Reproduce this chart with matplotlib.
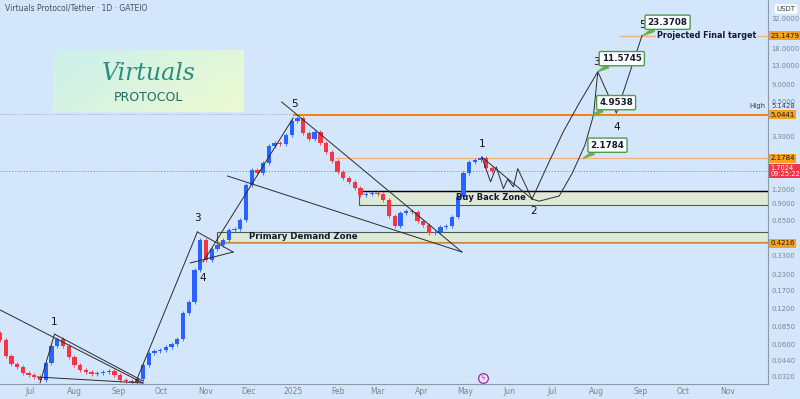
import numpy as np
import pandas as pd
import matplotlib
matplotlib.use('Agg')
import matplotlib.pyplot as plt
import matplotlib.dates as mdates
from matplotlib.patches import Rectangle

# ---- data ----
# one candle every 4 days starting 2024-06-10 (close prices, USDT)
start_date = '2024-06-10'
first_open = 0.075
closes = [0.065, 0.048, 0.041, 0.039, 0.0345, 0.033, 0.032, 0.030, 0.042, 0.058,
          0.066, 0.058, 0.047, 0.040, 0.0366, 0.035, 0.0338, 0.0345, 0.035, 0.0358,
          0.033, 0.030, 0.0295, 0.029, 0.0307, 0.040, 0.0507, 0.0527, 0.0537, 0.057,
          0.060, 0.066, 0.110, 0.136, 0.252, 0.45, 0.305, 0.378, 0.408, 0.449,
          0.545, 0.555, 0.66, 1.30, 1.73, 1.64, 1.99, 2.75, 2.92, 2.85,
          3.40, 4.45, 4.70, 3.54, 3.15, 3.61, 2.92, 2.45, 2.06, 1.67,
          1.49, 1.37, 1.22, 1.07, 1.09, 1.11, 1.09, 0.97, 0.713, 0.589,
          0.757, 0.785, 0.77, 0.649, 0.600, 0.514, 0.524, 0.577, 0.589, 0.700,
          1.03, 1.64, 2.02, 2.10, 2.19, 1.80, 1.7024]

# zones (bottom, top) and their start dates
demand_zone = (0.434, 0.524)
demand_start = '2024-11-09'
buyback_zone = (0.883, 1.156)
buyback_start = '2025-02-16'

# horizontal levels: (price, start date)
level_high = (5.0441, '2025-01-01')
level_target1 = (2.1784, '2025-01-30')
level_final = (23.1479, '2025-08-17')
level_demand = (0.4216, '2024-11-09')
last_price = 1.7024
ath_price = 5.1428

# trend lines: ((date, price), (date, price))
trend_lines = [
    (('2024-06-10', 0.1164), ('2024-09-18', 0.0284)),
    (('2024-07-18', 0.0731), ('2024-09-18', 0.0295)),
    (('2024-07-06', 0.0319), ('2024-09-18', 0.0284)),
    (('2024-07-08', 0.0285), ('2024-07-18', 0.0720)),
    (('2024-09-13', 0.0290), ('2024-10-26', 0.524)),
    (('2024-10-26', 0.524), ('2024-11-20', 0.356)),
    (('2024-10-21', 0.288), ('2024-11-20', 0.356)),
    (('2024-10-30', 0.294), ('2025-01-01', 4.73)),
    (('2024-12-24', 6.44), ('2025-04-29', 0.356)),
    (('2024-11-16', 1.545), ('2025-04-29', 0.356)),
    (('2025-05-13', 2.22), ('2025-06-17', 0.99)),
]

# projected wave path
zigzag_dates = ['2025-05-13', '2025-05-19', '2025-05-23', '2025-05-28', '2025-05-31',
                '2025-06-04', '2025-06-07', '2025-06-17']
zigzag_prices = [2.22, 1.38, 1.84, 1.21, 1.45, 1.25, 1.78, 0.99]
curve_a_dates = ['2025-06-17', '2025-06-22', '2025-07-06', '2025-07-15', '2025-07-24',
                 '2025-07-30', '2025-08-02']
curve_a_prices = [0.99, 0.95, 1.05, 1.62, 2.8, 5.0, 11.57]
curve_b_dates = ['2025-06-17', '2025-06-28', '2025-07-09', '2025-07-20', '2025-08-02']
curve_b_prices = [0.99, 1.92, 3.65, 6.3, 11.57]
impulse_dates = ['2025-08-02', '2025-08-15', '2025-09-02']
impulse_prices = [11.57, 5.2, 23.37]

# wave labels: (date, price, text)
wave_labels = [
    ('2024-07-18', 0.092, '1'),
    ('2024-10-26', 0.68, '3'),
    ('2024-10-30', 0.215, '4'),
    ('2025-01-02', 6.2, '5'),
    ('2025-05-13', 2.85, '1'),
    ('2025-06-18', 0.79, '2'),
    ('2025-08-01', 13.9, '3'),
    ('2025-08-15', 4.0, '4'),
    ('2025-09-02', 28.5, '5'),
]

# target callouts: (date, price, text)
callouts = [
    ('2025-09-03', 23.37, '23.3708'),
    ('2025-08-02', 11.57, '11.5745'),
    ('2025-07-29', 4.95, '4.9538'),
    ('2025-07-23', 2.178, '2.1784'),
]

axis_levels = [32, 18, 13, 9, 6.5, 3.3, 1.2, 0.9, 0.65,
               0.33, 0.23, 0.17, 0.12, 0.085, 0.06, 0.044, 0.032]

# ---- styling ----
bg = '#d4e6fb'
up_col = '#2962ff'
down_col = '#f23645'
orange = '#f57c00'
light_orange = '#efb37a'
zone_fill = '#dfead6'
navy = '#131a33'
green = '#4c9a4c'
gray_txt = '#7c838f'

fig = plt.figure(figsize=(8, 3.99), dpi=100, facecolor=bg)
ax = fig.add_axes([0, 15 / 399, 768 / 800, 384 / 399], facecolor=bg)
ax.set_yscale('log')

d = lambda s: mdates.date2num(pd.Timestamp(s))

# candles
dates = pd.date_range(start_date, periods=len(closes), freq='4D')
opens = [first_open] + closes[:-1]
x = mdates.date2num(dates)
for xi, o, c in zip(x, opens, closes):
    col = up_col if c >= o else down_col
    ax.bar(xi, abs(c - o), bottom=min(o, c), width=3.0, color=col, zorder=3)
    ax.vlines(xi, min(o, c) * 0.96, max(o, c) * 1.04, color=col, lw=0.6, zorder=3)

xmin, xmax = d('2024-06-10'), d('2025-11-29')
ax.set_xlim(xmin, xmax)
ax.set_ylim(0.02786, 46.13)

# zones
for (lo, hi), s in [(demand_zone, demand_start), (buyback_zone, buyback_start)]:
    ax.add_patch(Rectangle((d(s), lo), xmax - d(s), hi - lo, facecolor=zone_fill,
                           edgecolor='#4a5a55', lw=0.8, zorder=1))
ax.hlines(buyback_zone[1], d(buyback_start), xmax, color='black', lw=1.0, zorder=2)
ax.text(d('2025-05-19'), np.sqrt(buyback_zone[0] * buyback_zone[1]), 'Buy Back Zone',
        fontsize=6.0, fontweight='bold', color=navy, ha='center', va='center', zorder=4)
ax.text(d('2025-01-08'), np.sqrt(demand_zone[0] * demand_zone[1]), 'Primary Demand Zone',
        fontsize=6.2, fontweight='bold', color=navy, ha='center', va='center', zorder=4)

# horizontal levels
ax.hlines(level_high[0], d(level_high[1]), xmax, color=orange, lw=1.3, zorder=2)
ax.hlines(level_target1[0], d(level_target1[1]), xmax, color=light_orange, lw=0.9, zorder=2)
ax.hlines(level_final[0], d(level_final[1]), xmax, color=light_orange, lw=0.9, zorder=2)
ax.hlines(level_demand[0], d(level_demand[1]), xmax, color='#d99a3e', lw=1.2, zorder=2)
ax.hlines(last_price, xmin, xmax, color='#e06080', lw=0.6, ls=(0, (1.5, 2)), zorder=2)
ax.hlines(ath_price, xmin, xmax, color='#9aa3b0', lw=0.6, ls=(0, (1.5, 2)), zorder=1)
ax.text(d('2025-10-17'), level_final[0], 'Projected Final target', fontsize=5.8,
        fontweight='bold', color=navy, ha='center', va='center', zorder=4,
        bbox=dict(boxstyle='square,pad=0.15', fc=bg, ec='none'))

# trend lines and projection path
for (d1, p1), (d2, p2) in trend_lines:
    ax.plot([d(d1), d(d2)], [p1, p2], color='#2b2b2b', lw=0.7, zorder=4)
for ds, ps in [(zigzag_dates, zigzag_prices), (curve_a_dates, curve_a_prices),
               (curve_b_dates, curve_b_prices), (impulse_dates, impulse_prices)]:
    ax.plot([d(s) for s in ds], ps, color='#2b2b2b', lw=0.7, zorder=4)

for s, p, t in wave_labels:
    ax.text(d(s), p, t, fontsize=7.5, color='#111111', ha='center', va='center', zorder=5)

for s, p, t in callouts:
    ax.annotate(t, xy=(d(s), p), xytext=(24, 13), textcoords='offset pixels',
                fontsize=6.3, fontweight='bold', color=navy, ha='center', va='center',
                bbox=dict(boxstyle='round,pad=0.3,rounding_size=0.15', fc='white',
                          ec=green, lw=1.0),
                arrowprops=dict(arrowstyle='wedge,tail_width=0.4', color='#6bb04f',
                                shrinkA=0, shrinkB=0), zorder=6)

# title and event icon
ax.text(0.006, 0.978, 'Virtuals Protocol/Tether · 1D · GATEIO', transform=ax.transAxes,
        fontsize=5.5, color='#4a4f5a', ha='left', va='center')
ax.plot(483 / 768, 6 / 384, transform=ax.transAxes, marker='o', ms=7,
        mfc='#efe4f7', mec='#9c27b0', mew=0.9, clip_on=False, zorder=6)
ax.text(483 / 768, 6 / 384, 'ϟ', transform=ax.transAxes, fontsize=5, color='#9c27b0',
        ha='center', va='center', zorder=7)

# axes styling
for sp in ['top', 'left']:
    ax.spines[sp].set_visible(False)
for sp in ['right', 'bottom']:
    ax.spines[sp].set_color('#8f99a6')
    ax.spines[sp].set_linewidth(0.8)

ax.yaxis.tick_right()
ax.set_yticks(axis_levels)
ax.set_yticklabels(['%.4f' % v for v in axis_levels])
ax.yaxis.set_minor_locator(matplotlib.ticker.NullLocator())
ax.tick_params(axis='y', length=0, pad=2.5, labelsize=4.9, labelcolor=gray_txt)

ax.xaxis.set_major_locator(mdates.MonthLocator())
ax.xaxis.set_major_formatter(matplotlib.ticker.FuncFormatter(
    lambda v, pos: mdates.num2date(v).strftime('%Y' if mdates.num2date(v).month == 1 else '%b')))
ax.tick_params(axis='x', length=0, pad=2.5, labelsize=5.5, labelcolor=gray_txt)

# highlighted price tags on the right axis
tags = [(level_final[0], '23.1479'), (level_high[0], '5.0441'),
        (level_target1[0], '2.1784'), (level_demand[0], '0.4216')]
for p, t in tags:
    ax.text(1.003, p, t, transform=ax.get_yaxis_transform(), fontsize=5.0, color=navy,
            ha='left', va='center', clip_on=False, zorder=7,
            bbox=dict(boxstyle='square,pad=0.2', fc='#f7a21b', ec='none'))
ax.text(1.003, last_price, '1.7024\n09:25:22', transform=ax.get_yaxis_transform(),
        fontsize=4.8, color='white', ha='left', va='center', clip_on=False, zorder=7,
        linespacing=1.0, bbox=dict(boxstyle='square,pad=0.2', fc='#f23645', ec='none'))
ax.text(1.005, 5.91, '5.1428', transform=ax.get_yaxis_transform(), fontsize=4.9,
        color='#3a3f4a', ha='left', va='center', clip_on=False, zorder=7)
ax.text(0.997, 5.91, 'High', transform=ax.get_yaxis_transform(), fontsize=5.0,
        color='#3a3f4a', ha='right', va='center', clip_on=False, zorder=7)
fig.text(786 / 800, 1 - 9 / 399, 'USDT', fontsize=5.0, color='#3a3f4a', ha='center',
         va='center', bbox=dict(boxstyle='round,pad=0.25', fc='white', ec='none'))

# logo panel
lax = fig.add_axes([53 / 800, 1 - 112 / 399, 191 / 800, 62 / 399])
gx, gy = np.meshgrid(np.linspace(0, 1, 120), np.linspace(0, 1, 40))
t = (gx * 0.7 + gy * 0.3)[..., None]
c1 = np.array([203, 240, 236]) / 255
c2 = np.array([236, 250, 208]) / 255
lax.imshow(c1 * (1 - t) + c2 * t, aspect='auto', extent=(0, 1, 0, 1))
lax.text(0.5, 0.62, 'Virtuals', fontsize=17, family='DejaVu Serif', style='italic',
         color='#2b8c80', ha='center', va='center')
lax.text(0.5, 0.24, 'PROTOCOL', fontsize=9, color='#1e6b66', ha='center', va='center')
lax.set_axis_off()

fig.savefig('out.png', dpi=100, facecolor=bg)
